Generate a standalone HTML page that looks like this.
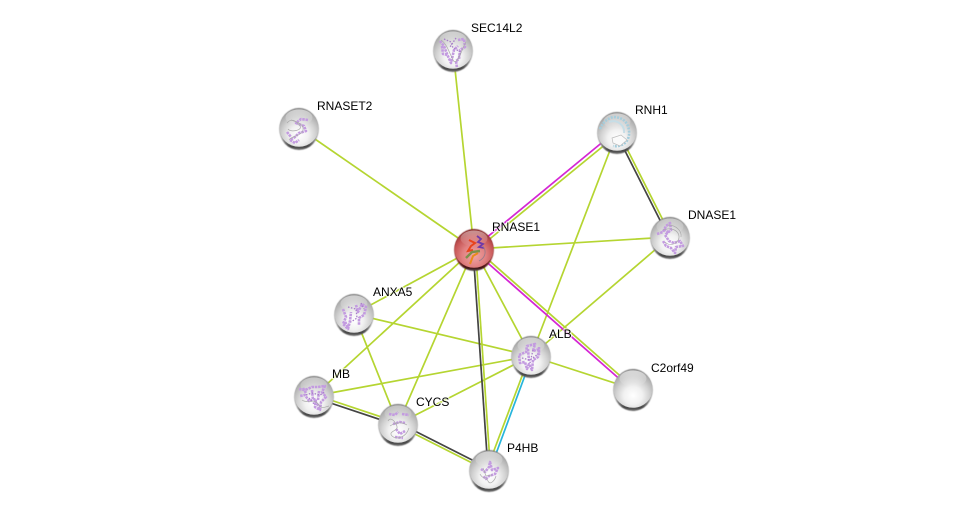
<!DOCTYPE html>
<html><head><meta charset="utf-8"><style>
html,body{margin:0;padding:0;background:#fff;width:976px;height:515px;overflow:hidden}
svg{display:block}
text{font-family:"Liberation Sans",sans-serif;font-size:12px;fill:#000;paint-order:stroke;stroke:rgba(255,255,255,.7);stroke-width:2.500px;stroke-linejoin:round}
.g{stroke:#b5d531;stroke-width:1.700;fill:none}
.k{stroke:#444;stroke-width:1.700;fill:none}
.m{stroke:#d426d4;stroke-width:1.700;fill:none}
.c{stroke:#27b5dc;stroke-width:1.700;fill:none}
.p{fill:none;stroke:#c39be0;stroke-width:2.600;stroke-dasharray:2.500 .8;stroke-linejoin:round}
.o{fill:none;stroke:#a77cc9;stroke-width:1.300;stroke-dasharray:1.500 1.500}
.q{fill:none;stroke:#aaa;stroke-width:.7}
</style></head><body>
<svg width="976" height="515" viewBox="0 0 976 515" xmlns="http://www.w3.org/2000/svg">
<defs>
<filter id="blur" x="-20%" y="-20%" width="140%" height="140%"><feGaussianBlur stdDeviation=".6"/></filter>
<radialGradient id="s" cx="50%" cy="68%" r="68%">
<stop offset="0" stop-color="#fff"/><stop offset=".35" stop-color="#f1f1f1"/><stop offset=".62" stop-color="#d2d2d2"/><stop offset=".85" stop-color="#b2b2b2"/><stop offset="1" stop-color="#999"/>
</radialGradient>
<radialGradient id="r" cx="50%" cy="68%" r="68%">
<stop offset="0" stop-color="#f0a6a6"/><stop offset=".45" stop-color="#e08080"/><stop offset=".75" stop-color="#c65656"/><stop offset="1" stop-color="#8f3030"/>
</radialGradient>
<linearGradient id="h" x1="0" y1="0" x2="0" y2="1">
<stop offset="0" stop-color="#fff" stop-opacity=".85"/><stop offset="1" stop-color="#fff" stop-opacity="0"/>
</linearGradient>
<linearGradient id="sh" x1="0" y1="0" x2="0" y2="1">
<stop offset="0" stop-color="#777"/><stop offset=".3" stop-color="#aaa"/><stop offset=".7" stop-color="#aaa"/><stop offset=".92" stop-color="#444"/><stop offset="1" stop-color="#777"/>
</linearGradient>
<linearGradient id="rim" x1="0" y1="0" x2="0" y2="1">
<stop offset="0" stop-color="#7a2020"/><stop offset=".7" stop-color="#a04040"/><stop offset=".93" stop-color="#401010"/><stop offset="1" stop-color="#555"/>
</linearGradient>
<g id="b">
<ellipse cx="0" cy="1" rx="19.800" ry="21" fill="url(#sh)" filter="url(#blur)"/>
<ellipse cx="0" cy="-.2" rx="19.500" ry="19" fill="url(#s)"/>
</g>
<g id="hl"><ellipse cx="0" cy="-10.500" rx="13.500" ry="8" fill="url(#h)"/></g>
</defs>

<!-- edges -->
<path class="g" d="M453 50L474 249M299 128L474 249M474 249L670 237M474 249L354 314M474 249L314 396M474 249L398 424M474 249L531 356M617 132L531 356M670 237L531 356M354 314L531 356M354 314L398 424M314 396L531 356M398 424L531 356M531 356L633 389"/>
<path class="m" d="M474 248L616 131"/><path class="g" d="M475 251L618 134"/>
<path class="k" d="M616 133L669 238"/><path class="g" d="M618.500 132L671.500 237"/>
<path class="m" d="M473 250L632 390"/><path class="g" d="M475 248L634 388"/>
<path class="k" d="M473 249L488 470"/><path class="g" d="M475.500 249L490.500 470"/>
<path class="g" d="M530 355L487 469"/><path class="c" d="M532 356.500L490 470"/>
<path class="k" d="M314 397.500L398 425.500"/><path class="g" d="M314 394.500L398 422.500"/>
<path class="k" d="M398 422.500L489 468.500"/><path class="g" d="M398 425.500L489 471.500"/>

<!-- labels -->
<text x="471" y="32">SEC14L2</text>
<text x="317" y="110">RNASET2</text>
<text x="635" y="114">RNH1</text>
<text x="688" y="219">DNASE1</text>
<text x="492" y="231">RNASE1</text>
<text x="373" y="296">ANXA5</text>
<text x="549" y="338">ALB</text>
<text x="651" y="372">C2orf49</text>
<text x="332" y="378">MB</text>
<text x="416" y="406">CYCS</text>
<text x="507" y="452">P4HB</text>

<!-- nodes -->
<g transform="translate(453,50)"><use href="#b"/><use href="#hl" opacity=".6"/><path class="p" d="M-13-9l4 5 3 8 4 9 3-13 4-4M5-10l6-1 1 8-5 3-1 9-3 2 1 7M-11-4l1 8 5 1"/><path class="o" d="M-9-11l7 3 2 6 8 4-3 7M3-12l-6 9"/><path class="q" d="M-12-10c6 4 8 12 12 20s10-14 13-18"/></g>
<g transform="translate(299,128)"><use href="#b"/><use href="#hl" opacity=".6"/><path class="p" d="M9-8l-7-1-5 4 8 3 2 5-7 2-4 4-5 3 5 3 4-3M-12 4l4 5"/><path class="q" d="M-12-5c5-6 10-1 13 3s-9 7-12 3M-8-8c6 2 13 4 12 10s-12 6-14 10"/></g>
<g transform="translate(617,132)"><use href="#b"/><use href="#hl" opacity=".6"/><path d="M-17-3c3-7 7-10 13-12 6 0 11 2 14 7 3 6 3 13-1 18-3 3-8 5-13 4" fill="none" stroke="#a5cddc" stroke-width="2.600" stroke-dasharray="2 1.200"/><path d="M-8-10c8-3 16 3 15 11" fill="none" stroke="#c6dde6" stroke-width="2"/><path d="M-5 6l9-3 6 5-7 6-7-3z" fill="#fafafa" stroke="#bbb" stroke-width=".7"/></g>
<g transform="translate(670,237)"><use href="#b"/><use href="#hl" opacity=".5"/><path class="p" d="M-13-3l6-2 3-6 4-3 1 7-6 5 4 6 5 2 6-2 3 5-7 1-1 6-4-5-5-2-3-5M-6-8l5 4"/><path class="q" d="M-7-7c8-3 15 0 16 6s-8 12-14 6M-2-12c8 0 14 6 13 12"/></g>
<g transform="translate(354,314)"><use href="#b"/><use href="#hl" opacity=".6"/><path class="p" d="M-11-5l3 8-3 7 5 5 2-8 1-9M2-9l2 7 4-8 4 3-2 8-5 3 0 7M-9 8l4 6"/><path class="o" d="M-6-7l8 2 1 9-6 4M7-11l3 6"/></g>
<g transform="translate(531,356)"><use href="#b"/><use href="#hl" opacity=".6"/><path class="p" d="M-12-1l7-3 1-6 8-2-2 7 6-2-1 8-5 3-1 10-3-6-2 5-2-7-5 1zM8-9l0 8M-3-7l1 12"/><path class="o" d="M-9 2l8 2 8-6M2-6l-3 13"/></g>
<g transform="translate(633,389)"><use href="#b"/><use href="#hl" opacity=".7"/></g>
<g transform="translate(314,396)"><use href="#b"/><use href="#hl" opacity=".5"/><path class="p" d="M-15-7l6 1 7-3 6 0 7-1-3 6 4 5-5 5-1 8-5-3 1-8-7 2-4-6-5 1M-2-6l1 10M5-5l-1 9M-11-8l3 5M1 5l5 7"/><path class="o" d="M-8-1l6-2 8 2 5-3M-5 2l6 7"/><path class="q" d="M-12 4c5 4 12-2 16 4s6 3 11 2"/></g>
<g transform="translate(398,424)"><use href="#b"/><use href="#hl" opacity=".45"/><path class="p" d="M-9-10l6 1 3-3M4-10l7 1M-5 0l7-2 5 1M-2 5l4 5 5-3M-3 13l8 1"/><path class="q" d="M-10-3c3-6 10 4 9 7s-9 4-5 8 14 2 17-8M-8 2c6-4 12-4 17-1"/></g>
<g transform="translate(489,470)"><use href="#b"/><use href="#hl" opacity=".6"/><path class="p" d="M-8-1l4 3 4-5 1-5 2 8 6-2-3 6-6 2-3 3-3-3"/><path class="q" d="M-9 4c3 6 6 2 8 7s7-1 8-5M-6-2l3 8 6-1"/></g>
<g transform="translate(474,249)"><ellipse cx="0" cy="1" rx="19.800" ry="21" fill="url(#rim)" filter="url(#blur)"/><ellipse cx="0" cy="-.2" rx="19.500" ry="19" fill="url(#r)"/><ellipse cx="0" cy="-10.500" rx="13.500" ry="8" fill="url(#h)" opacity=".55"/>
<path d="M-5-9l6 3-4 3-3 5 5-1" fill="none" stroke="#e8431c" stroke-width="2"/>
<path d="M3-13l4 3-3 3 5 2-4 3 5 1" fill="none" stroke="#6f3aa8" stroke-width="1.800"/>
<path d="M-8 9l6-6 8-1" fill="none" stroke="#7b8f4a" stroke-width="2.400"/>
<path d="M-4 15l3-8 5-3" fill="none" stroke="#e98a1d" stroke-width="2"/>
<path d="M9-3c4 6 2 12-4 15" fill="none" stroke="#9a7b8a" stroke-width=".9"/>
</g>
</svg>
</body></html>
